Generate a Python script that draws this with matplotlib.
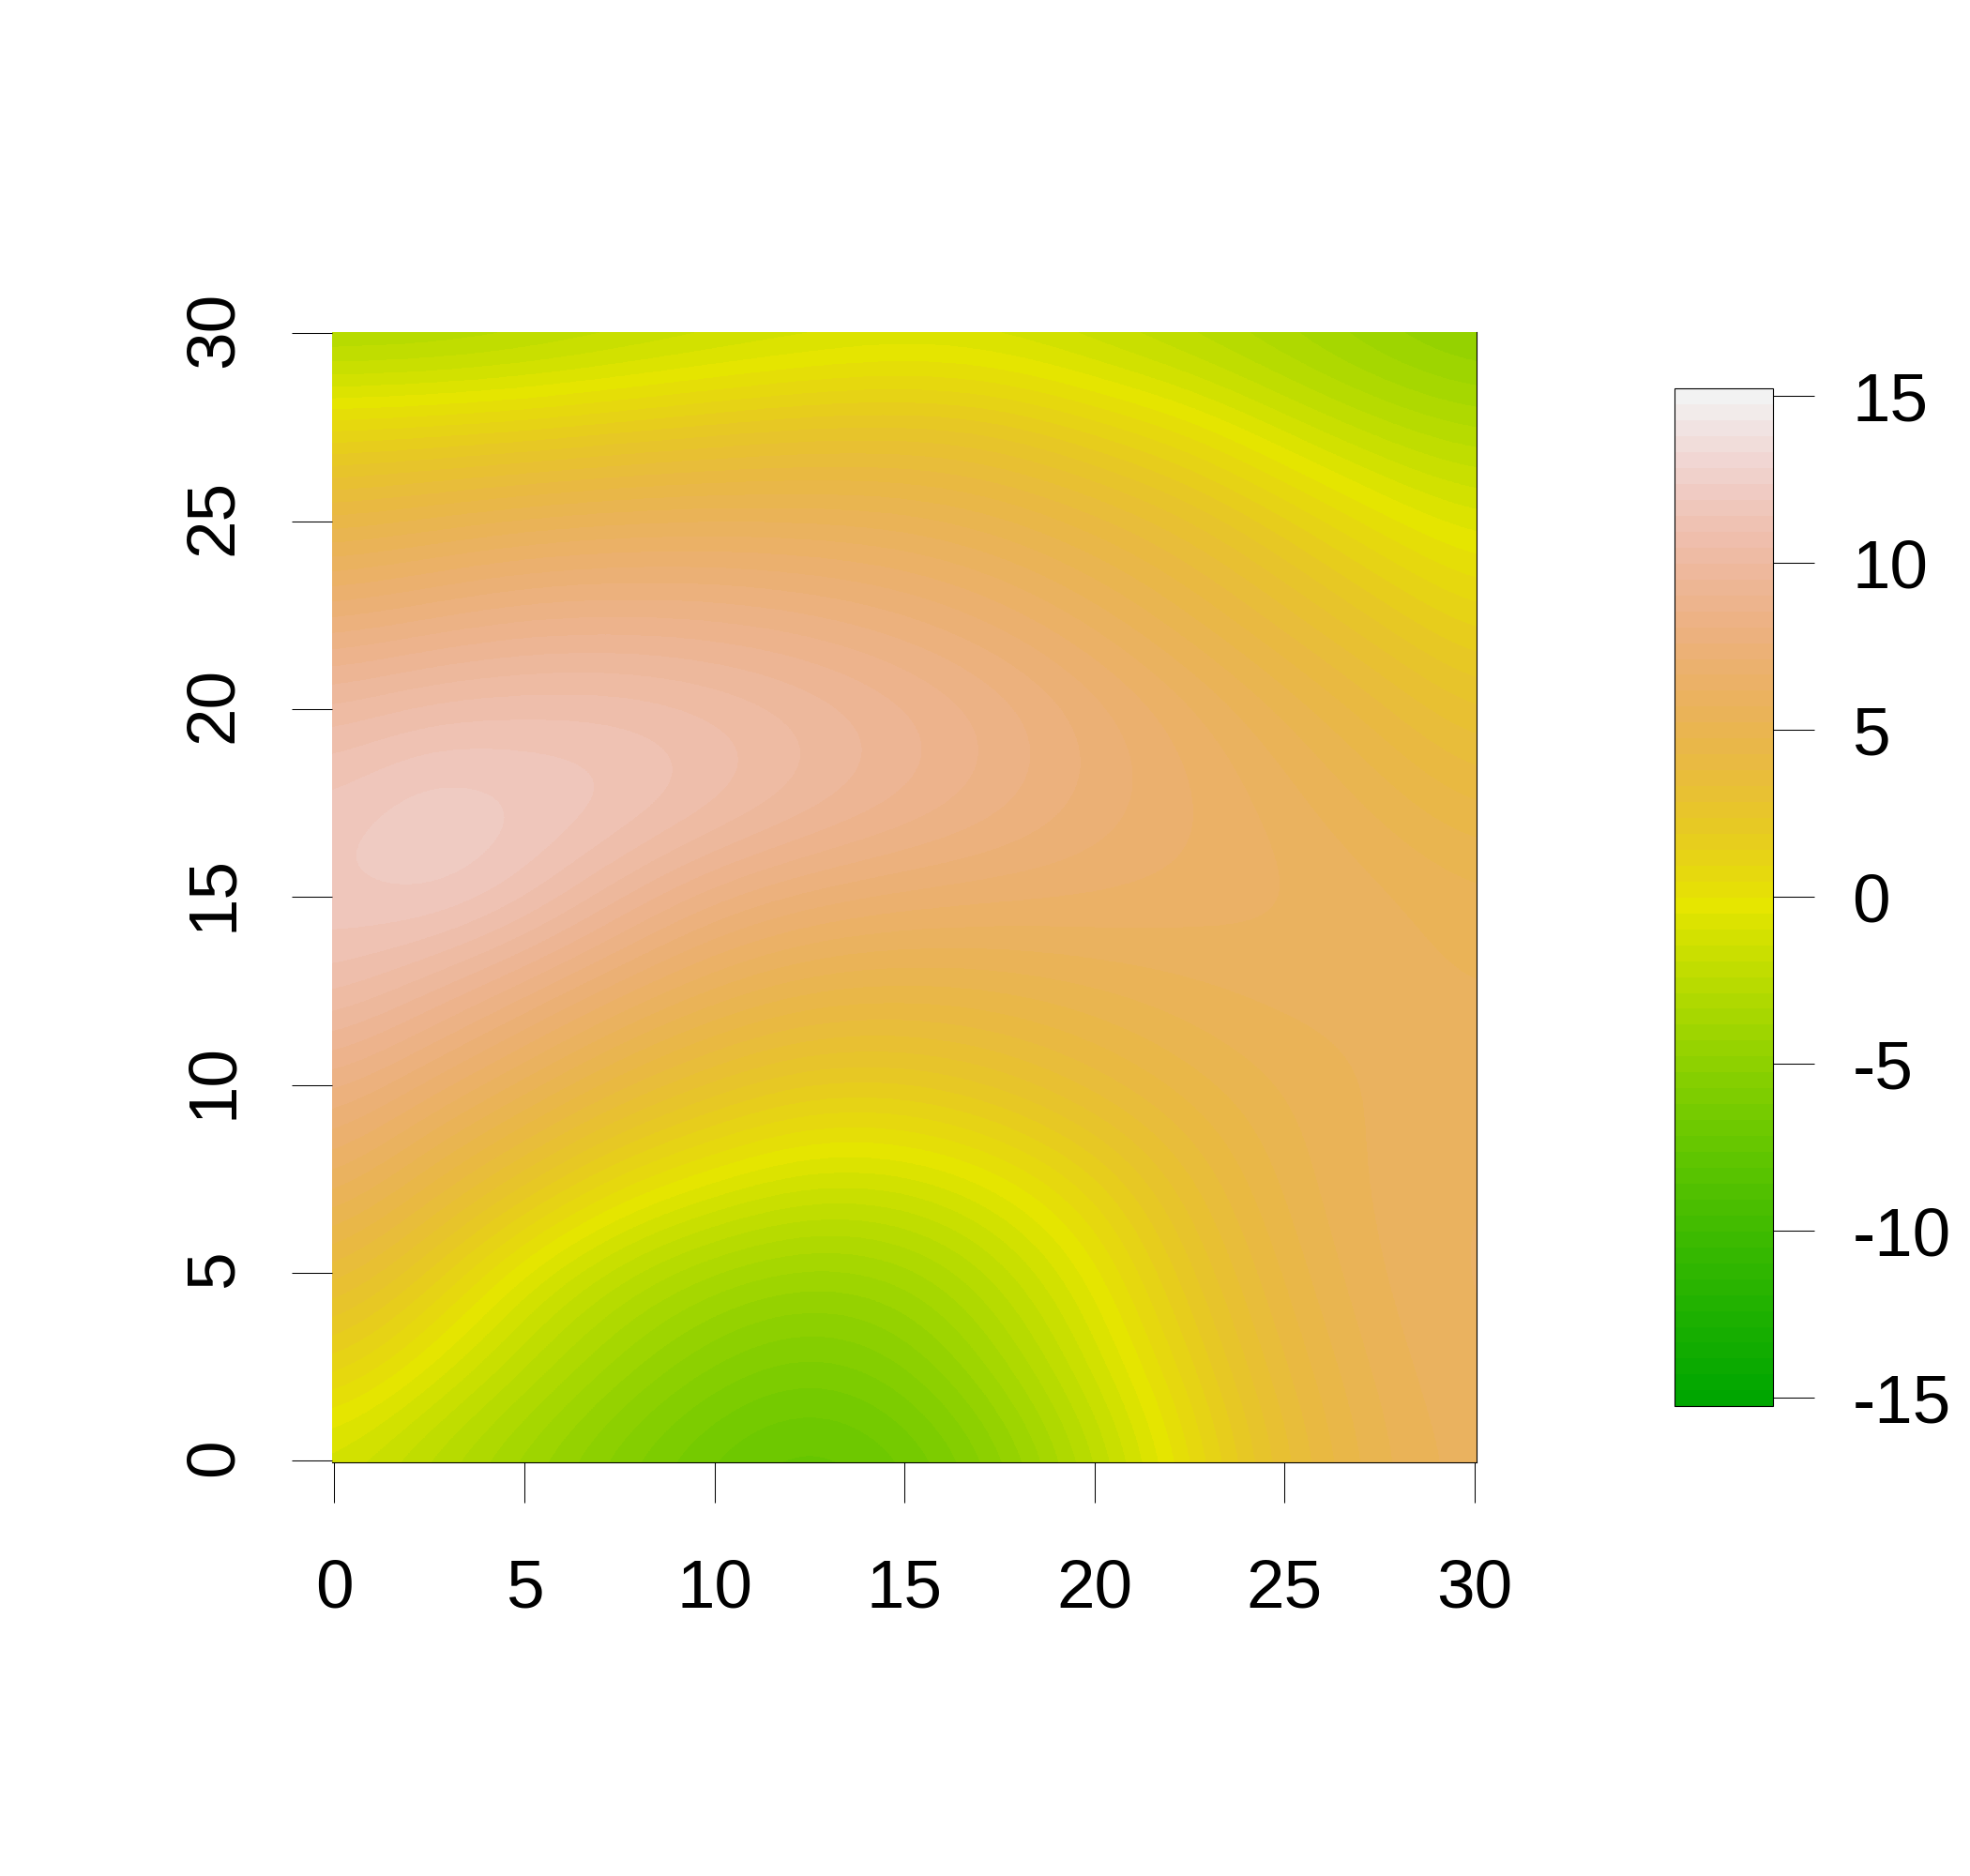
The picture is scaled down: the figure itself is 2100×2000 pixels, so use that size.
import colorsys

import numpy as np
import matplotlib
matplotlib.use("Agg")
import matplotlib.pyplot as plt
from matplotlib.colors import ListedColormap
from matplotlib.transforms import ScaledTranslation

plt.rcParams['font.family'] = ['Liberation Sans', 'DejaVu Sans']
plt.rcParams['axes.unicode_minus'] = False

# surface, rows are y = 0, 2.5, ... 30
x_step = 2.5
y_step = 2.5
row_y00 = [-1.3, -2.7, -4.2, -5.7, -7.0, -7.7, -7.0, -5.2, -2.6, 0.3, 3.2, 5.2, 6.0]
row_y02 = [1.4, -0.5, -2.4, -4.1, -5.4, -6.1, -5.4, -3.6, -1.3, 1.3, 3.9, 5.5, 6.2]
row_y05 = [3.8, 1.8, -0.7, -2.4, -3.6, -4.2, -3.8, -2.3, -0.3, 2.3, 4.5, 5.8, 6.3]
row_y07 = [6.3, 4.5, 2.6, 0.7, -0.4, -1.3, -1.2, -0.3, 1.2, 3.3, 5.0, 5.9, 6.2]
row_y10 = [8.3, 7.0, 5.6, 4.0, 2.7, 1.8, 1.8, 2.5, 3.6, 4.6, 5.3, 5.8, 6.0]
row_y12 = [10.8, 9.6, 8.2, 6.8, 5.6, 4.8, 4.6, 4.8, 5.2, 5.6, 5.9, 5.9, 5.7]
row_y15 = [11.9, 12.3, 11.4, 9.7, 8.2, 7.4, 7.0, 6.8, 6.7, 6.5, 6.3, 5.9, 5.4]
row_y17 = [11.6, 12.5, 12.1, 11.7, 10.9, 10.0, 9.2, 8.4, 7.5, 6.8, 6.0, 5.1, 4.2]
row_y20 = [10.2, 10.8, 11.0, 11.0, 10.6, 10.0, 9.3, 8.5, 7.5, 6.4, 5.2, 4.0, 2.8]
row_y22 = [7.5, 8.0, 8.5, 8.6, 8.5, 8.2, 7.7, 7.0, 6.0, 4.8, 3.5, 2.2, 1.0]
row_y25 = [4.5, 5.0, 5.5, 5.8, 5.9, 5.8, 5.6, 5.0, 4.1, 3.0, 1.6, 0.2, -0.8]
row_y27 = [0.8, 1.0, 1.2, 1.6, 2.0, 2.4, 2.5, 2.2, 1.2, 0.2, -1.2, -2.3, -3.0]
row_y30 = [-3.5, -3.4, -3.0, -2.5, -2.0, -1.6, -1.3, -1.5, -2.1, -2.8, -3.6, -4.5, -5.2]

axis_ticks = [0, 5, 10, 15, 20, 25, 30]
bar_ticks = [-15, -10, -5, 0, 5, 10, 15]
bar_min = -15.25
bar_max = 15.22


# same ramp as R terrain.colors
def terrain_colors(n):
    k = n // 2
    part1 = zip(np.linspace(4 / 12, 2 / 12, k), np.linspace(1, 1, k), np.linspace(0.65, 0.9, k))
    part2 = zip(np.linspace(2 / 12, 0, n - k + 1)[1:], np.linspace(1, 0, n - k + 1)[1:],
                np.linspace(0.9, 0.95, n - k + 1)[1:])
    return [colorsys.hsv_to_rgb(*c) for c in list(part1) + list(part2)]


surface = np.array([row_y00, row_y02, row_y05, row_y07, row_y10, row_y12, row_y15,
                    row_y17, row_y20, row_y22, row_y25, row_y27, row_y30])
cmap = ListedColormap(terrain_colors(64))

W, H = 2100, 2000
fig = plt.figure(figsize=(W / 100, H / 100), dpi=100)

# positions in pixels from the reference
ax = fig.add_axes([354 / W, 1 - 1559 / H, (1574 - 354) / W, (1559 - 354) / H])
im = ax.imshow(surface, origin='lower', cmap=cmap, vmin=bar_min, vmax=bar_max,
               extent=(-x_step / 2, 30 + x_step / 2, -y_step / 2, 30 + y_step / 2),
               interpolation='bicubic', interpolation_stage='data', aspect='auto')
ax.set_xlim(-0.06, 30.05)
ax.set_ylim(-0.04, 30.03)
ax.spines['top'].set_visible(False)
ax.spines['left'].set_visible(False)
ax.spines['bottom'].set_linewidth(0.8)
ax.spines['right'].set_linewidth(0.8)
ax.set_xticks(axis_ticks)
ax.set_yticks(axis_ticks)
ax.tick_params(axis='x', length=31, width=0.75, labelsize=52.5, pad=80)
ax.tick_params(axis='y', length=31, width=0.75, labelsize=52.5, pad=35)
for t in ax.get_xticklabels():
    t.set_va('baseline')
up = ScaledTranslation(0, 4 / 100, fig.dpi_scale_trans)
for t in ax.get_yticklabels():
    t.set_rotation(90)
    t.set_va('center')
    t.set_transform(t.get_transform() + up)

cax = fig.add_axes([1784.5 / W, 1 - 1499.3 / H, (1889.7 - 1784.5) / W, (1499.3 - 414.3) / H])
cb = fig.colorbar(im, cax=cax, ticks=bar_ticks)
cb.outline.set_linewidth(0.8)
cb.ax.tick_params(length=32, width=0.75, labelsize=52.5, pad=29)
cb.ax.set_yticklabels([str(v) for v in bar_ticks])

plt.savefig("out.png", dpi=100)
